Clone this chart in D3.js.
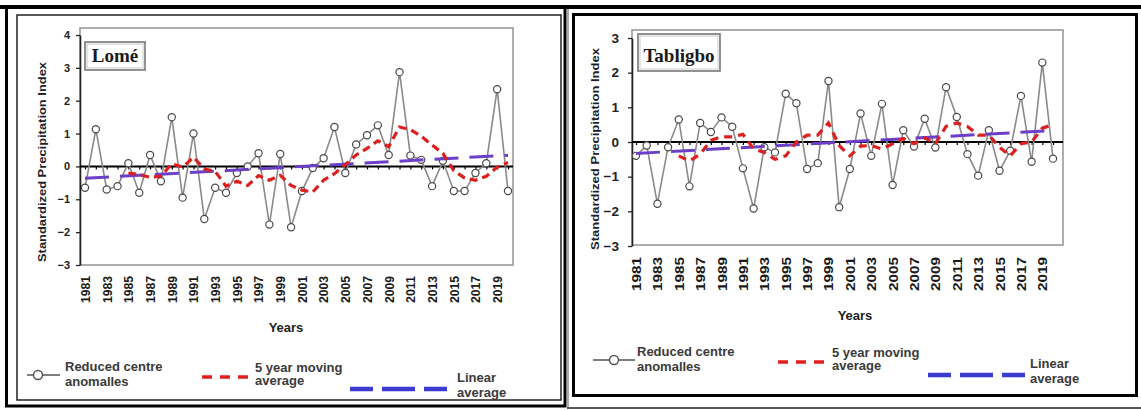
<!DOCTYPE html>
<html><head><meta charset="utf-8">
<script src="https://cdn.jsdelivr.net/npm/d3@7"></script>
<style>body{margin:0;background:#fff}svg{display:block}</style>
</head><body>
<svg id="c" width="1141" height="410"></svg>
<script>
// ---------- data ----------
const years = [1981,1982,1983,1984,1985,1986,1987,1988,1989,1990,
               1991,1992,1993,1994,1995,1996,1997,1998,1999,2000,
               2001,2002,2003,2004,2005,2006,2007,2008,2009,2010,
               2011,2012,2013,2014,2015,2016,2017,2018,2019,2020];
const xTickYears = [1981,1983,1985,1987,1989,1991,1993,1995,1997,1999,
                    2001,2003,2005,2007,2009,2011,2013,2015,2017,2019];
const maYears = [1985,1986,1987,1988,1989,1990,1991,1992,1993,1994,
                 1995,1996,1997,1998,1999,2000,2001,2002,2003,2004,
                 2005,2006,2007,2008,2009,2010,2011,2012,2013,2014,
                 2015,2016,2017,2018,2019,2020];
const trendYears = [1981, 2020];

const lomeSPI = [-0.65,1.13,-0.7,-0.6,0.1,-0.8,0.35,-0.45,1.5,-0.95,
                 1.0,-1.6,-0.65,-0.8,-0.2,0.0,0.4,-1.77,0.38,-1.85,
                 -0.75,-0.05,0.25,1.2,-0.2,0.67,0.95,1.25,0.35,2.87,
                 0.33,0.2,-0.6,0.17,-0.75,-0.75,-0.2,0.1,2.35,-0.75];
const lomeMA = [-0.2,-0.25,-0.33,-0.3,0.08,-0.02,0.28,-0.08,-0.15,-0.6,
                -0.45,-0.58,-0.28,-0.42,-0.27,-0.58,-0.72,-0.78,-0.42,-0.22,
                0.05,0.35,0.55,0.78,0.6,1.2,1.12,0.92,0.65,0.4,
                -0.13,-0.35,-0.42,-0.3,-0.02,0.12];
const lomeTrend = [-0.36, 0.34];
const lomeYTicks = [-3,-2,-1,0,1,2,3,4];

const tabSPI = [-0.4,-0.1,-1.78,-0.15,0.65,-1.28,0.55,0.29,0.71,0.44,
                -0.76,-1.92,-0.15,-0.3,1.39,1.12,-0.78,-0.61,1.76,-1.88,
                -0.78,0.82,-0.4,1.1,-1.24,0.34,-0.13,0.67,-0.16,1.58,
                0.72,-0.35,-0.97,0.34,-0.83,-0.25,1.33,-0.57,2.29,-0.48];
const tabMA = [-0.4,-0.55,-0.35,0.05,0.15,0.15,0.22,-0.2,-0.3,-0.5,
               -0.4,0.0,0.2,0.2,0.55,-0.1,-0.4,-0.12,-0.1,-0.2,
               -0.05,0.1,-0.05,0.12,-0.05,0.45,0.55,0.45,0.2,0.2,
               -0.15,-0.4,-0.05,0.0,0.4,0.5];
const tabTrend = [-0.33, 0.33];
const tabYTicks = [-3,-2,-1,0,1,2,3];

const yAxisTitle = "Standardized Precipitation Index";
const xAxisTitle = "Years";
const legendSPI = ["Reduced centre", "anomalles"];
const legendMA = ["5 year moving", "average"];
const legendTrend = ["Linear", "average"];

// ---------- drawing ----------
const SANS = "'Liberation Sans', Arial, sans-serif";
const SERIF = "'Liberation Serif', 'Times New Roman', serif";
const svg = d3.select("#c");

// frames
svg.append("line").attr("x1",0).attr("x2",1141).attr("y1",7).attr("y2",7).attr("stroke","#000").attr("stroke-width",4);
svg.append("rect").attr("x",6.5).attr("y",7).attr("width",558.5).attr("height",399).attr("fill","none").attr("stroke","#000").attr("stroke-width",3);
svg.append("rect").attr("x",17).attr("y",15).attr("width",544).attr("height",385).attr("fill","none").attr("stroke","#222").attr("stroke-width",1.5);
svg.append("rect").attr("x",573.5).attr("y",14.5).attr("width",1063).attr("height",381).attr("fill","none").attr("stroke","#000").attr("stroke-width",3)
   .attr("width",563);
svg.append("line").attr("x1",567).attr("x2",1141).attr("y1",408).attr("y2",408).attr("stroke","#222").attr("stroke-width",1.5);
svg.append("line").attr("x1",568).attr("x2",568).attr("y1",9).attr("y2",408).attr("stroke","#555").attr("stroke-width",1);

function drawPanel(p, spi, ma, trend, yTicks, title) {
  const g = svg.append("g");
  const x = d3.scaleLinear().domain([years[0], years[years.length-1]]).range([p.x0, p.x1]);
  const y = d3.scaleLinear().domain(p.yDom).range(p.yRange);

  // plot-area border
  g.append("rect").attr("x",p.plotL).attr("y",p.plotT).attr("width",p.plotR-p.plotL).attr("height",p.plotB-p.plotT)
   .attr("fill","none").attr("stroke","#9a9a9a").attr("stroke-width",1.6);

  // y axis
  const ya = g.append("g").attr("transform",`translate(${p.plotL},0)`)
    .call(d3.axisLeft(y).tickValues(yTicks).tickFormat(d3.format("d")).tickSize(4).tickSizeOuter(0).tickPadding(p.yTickPad));
  ya.select(".domain").attr("stroke","#222").attr("stroke-width",1.6);
  ya.selectAll(".tick line").attr("stroke","#222").attr("stroke-width",1.3);
  ya.selectAll("text").attr("font-family",SANS).attr("font-weight","bold").attr("font-size",p.yTickFont).attr("fill","#222");

  // zero line with year ticks
  g.append("line").attr("x1",p.plotL).attr("x2",p.plotR).attr("y1",y(0)).attr("y2",y(0)).attr("stroke","#000").attr("stroke-width",2);
  const za = g.append("g").attr("transform",`translate(0,${y(0)})`)
    .call(d3.axisBottom(x).tickValues(years).tickSize(3).tickSizeOuter(0).tickFormat(""));
  za.select(".domain").remove();
  za.selectAll(".tick line").attr("stroke","#000").attr("stroke-width",1.2);

  // x tick labels (rotated)
  const xa = g.append("g").attr("transform",`translate(0,${p.labelTop})`)
    .call(d3.axisBottom(x).tickValues(xTickYears).tickFormat(d3.format("d")).tickSize(0).tickSizeOuter(0));
  xa.select(".domain").remove();
  xa.selectAll("text").attr("transform","rotate(-90)").attr("x",0).attr("y",0).attr("dy","0.36em")
    .attr("text-anchor","end").attr("font-family",SANS).attr("font-weight","bold").attr("font-size",p.xLabFont)
    .attr("fill","#1a1a1a").attr("textLength",p.xLabLen).attr("lengthAdjust","spacingAndGlyphs");

  // series: SPI
  const spiData = years.map((yr,i)=>({yr, v:spi[i]}));
  g.append("path").datum(spiData).attr("fill","none").attr("stroke","#8a8a8a").attr("stroke-width",1.6)
    .attr("d", d3.line().x(d=>x(d.yr)).y(d=>y(d.v)));
  g.selectAll("circle.pt").data(spiData).join("circle").attr("class","pt")
    .attr("cx",d=>x(d.yr)).attr("cy",d=>y(d.v)).attr("r",3.6)
    .attr("fill","#fff").attr("stroke","#4a4a4a").attr("stroke-width",1.2);

  // linear trend
  const trData = trendYears.map((yr,i)=>({yr, v:trend[i]}));
  g.append("path").datum(trData).attr("fill","none").attr("stroke","#6b3fc6").attr("stroke-width",3)
    .attr("stroke-dasharray","24,11").attr("d", d3.line().x(d=>x(d.yr)).y(d=>y(d.v)));

  // moving average
  const maData = maYears.map((yr,i)=>({yr, v:ma[i]}));
  g.append("path").datum(maData).attr("fill","none").attr("stroke","#dc2020").attr("stroke-width",3.2)
    .attr("stroke-dasharray",p.maDash).attr("d", d3.line().x(d=>x(d.yr)).y(d=>y(d.v)));

  // title box
  g.append("rect").attr("x",p.tb[0]).attr("y",p.tb[1]).attr("width",p.tb[2]).attr("height",p.tb[3])
    .attr("fill","#fff").attr("stroke","#777").attr("stroke-width",1.6);
  g.append("rect").attr("x",p.tb[0]+2).attr("y",p.tb[1]+2).attr("width",p.tb[2]-4).attr("height",p.tb[3]-4)
    .attr("fill","none").attr("stroke","#ccc").attr("stroke-width",1);
  g.append("text").attr("x",p.tb[0]+p.tb[2]/2).attr("y",p.titleBase).attr("text-anchor","middle")
    .attr("font-family",SERIF).attr("font-weight","bold").attr("font-size",19).attr("fill","#1a1a1a").text(title);

  // axis titles
  g.append("text").attr("transform",`translate(${p.yl[0]},${p.yl[1]}) rotate(-90)`).attr("text-anchor","middle")
    .attr("dy","0.35em").attr("font-family",SANS).attr("font-weight","bold").attr("font-size",11.5).attr("fill","#1e1e2a")
    .attr("textLength",p.yl[2]).attr("lengthAdjust","spacingAndGlyphs").text(yAxisTitle);
  g.append("text").attr("x",p.xt[0]).attr("y",p.xt[1]).attr("text-anchor","middle")
    .attr("font-family",SANS).attr("font-weight","bold").attr("font-size",13).attr("fill","#222").text(xAxisTitle);

  // legend
  const L = p.leg;
  const lt = (xx, yy, s) => g.append("text").attr("x",xx).attr("y",yy).attr("font-family",SANS).attr("font-weight","bold")
    .attr("font-size",13).attr("fill","#3a3a3a").text(s);
  g.append("line").attr("x1",L.c[0]).attr("x2",L.c[1]).attr("y1",L.c[3]).attr("y2",L.c[3]).attr("stroke","#555").attr("stroke-width",1.5);
  g.append("circle").attr("cx",L.c[2]).attr("cy",L.c[3]).attr("r",4.5).attr("fill","#fff").attr("stroke","#555").attr("stroke-width",1.5);
  lt(L.c[4], L.c[5], legendSPI[0]); lt(L.c[4], L.c[6], legendSPI[1]);
  g.append("line").attr("x1",L.m[0]).attr("x2",L.m[1]).attr("y1",L.m[2]).attr("y2",L.m[2]).attr("stroke","#e02020").attr("stroke-width",3.5)
    .attr("stroke-dasharray","10,8");
  lt(L.m[3], L.m[4], legendMA[0]); lt(L.m[3], L.m[5], legendMA[1]);
  g.append("line").attr("x1",L.t[0]).attr("x2",L.t[1]).attr("y1",L.t[2]).attr("y2",L.t[2]).attr("stroke","#3b3bd0").attr("stroke-width",4.5)
    .attr("stroke-dasharray","23,9,33,9,30");
  lt(L.t[3], L.t[4], legendTrend[0]); lt(L.t[3], L.t[5], legendTrend[1]);
}

drawPanel({
  x0:85, x1:508, plotL:80, plotR:513, plotT:28, plotB:265,
  yDom:[-3,4], yRange:[265,35], yTickPad:6, yTickFont:11,
  labelTop:276, xLabFont:12, xLabLen:27, maDash:"8,5",
  tb:[85,42,60,28], titleBase:62,
  yl:[42,162,200], xt:[286,332],
  leg:{ c:[27,60,38,375,65,371,386], m:[202,248,377,255,372,385], t:[350,447,389,457,382,397] }
}, lomeSPI, lomeMA, lomeTrend, lomeYTicks, "Lomé");

drawPanel({
  x0:636, x1:1053, plotL:632, plotR:1063, plotT:30, plotB:245,
  yDom:[-3,3], yRange:[246,38], yTickPad:9, yTickFont:13.5,
  labelTop:257, xLabFont:12.5, xLabLen:34, maDash:"8,6",
  tb:[638,34,82,37], titleBase:62,
  yl:[595,149,202], xt:[855,320],
  leg:{ c:[593,635,614,360,637,356,371], m:[778,827,362,832,357,370], t:[928,1025,375,1030,368,383] }
}, tabSPI, tabMA, tabTrend, tabYTicks, "Tabligbo");
</script>
</body></html>
